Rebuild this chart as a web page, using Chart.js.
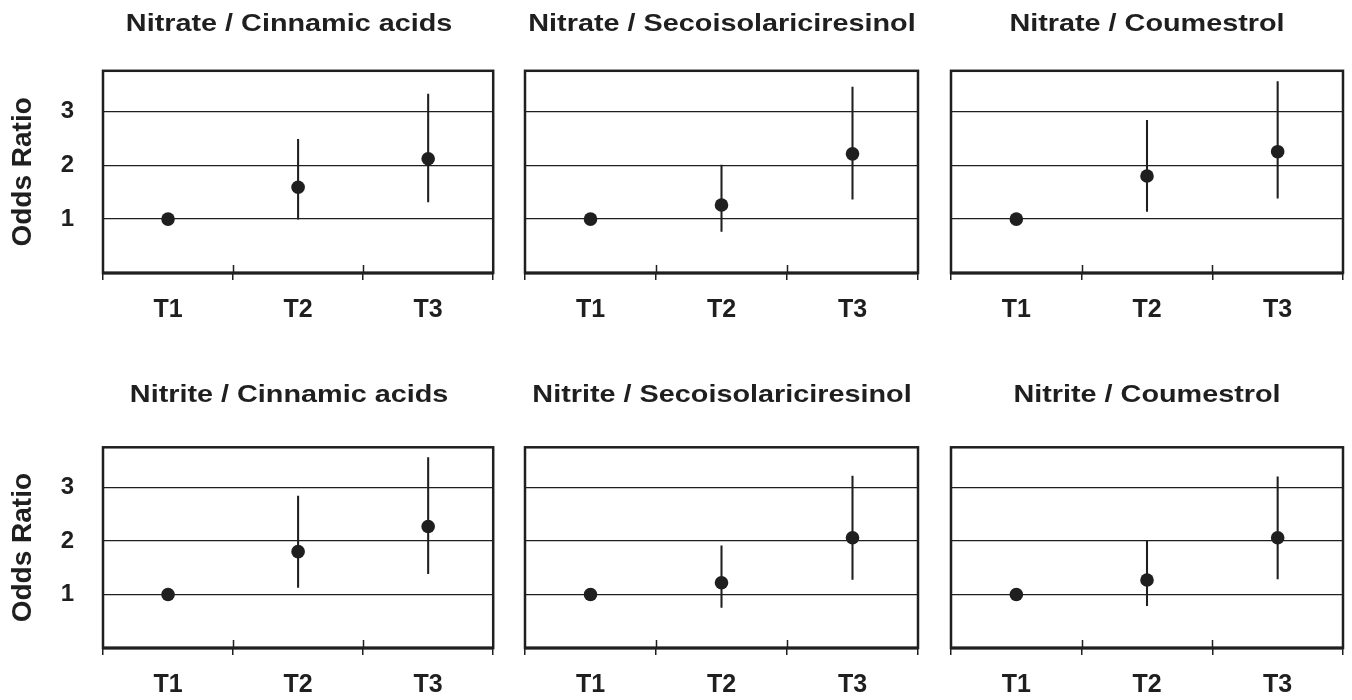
<!DOCTYPE html>
<html>

<head>
    <meta charset="utf-8" />
    <script src="https://cdn.jsdelivr.net/npm/chart.js"></script>
    <style>
        body { margin: 0; background: #fff; width: 1352px; height: 700px; position: relative; overflow: hidden; }
        canvas { position: absolute; }
    </style>
</head>

<body>

    <script type="text/javascript">

        // Datos
        const categories = ['T1', 'T2', 'T3'];
        const yTicks = [1, 2, 3];

        const nitrateCinnamicOR = [1.00, 1.59, 2.12];
        const nitrateCinnamicLow = [null, 1.00, 1.32];
        const nitrateCinnamicHigh = [null, 2.48, 3.32];

        const nitrateSecoOR = [1.00, 1.26, 2.21];
        const nitrateSecoLow = [null, 0.77, 1.37];
        const nitrateSecoHigh = [null, 2.00, 3.45];

        const nitrateCoumOR = [1.00, 1.80, 2.25];
        const nitrateCoumLow = [null, 1.14, 1.39];
        const nitrateCoumHigh = [null, 2.83, 3.55];

        const nitriteCinnamicOR = [1.00, 1.80, 2.27];
        const nitriteCinnamicLow = [null, 1.13, 1.39];
        const nitriteCinnamicHigh = [null, 2.84, 3.56];

        const nitriteSecoOR = [1.00, 1.22, 2.06];
        const nitriteSecoLow = [null, 0.76, 1.28];
        const nitriteSecoHigh = [null, 1.91, 3.21];

        const nitriteCoumOR = [1.00, 1.27, 2.06];
        const nitriteCoumLow = [null, 0.79, 1.29];
        const nitriteCoumHigh = [null, 2.00, 3.20];

        const panels = [
            { title: 'Nitrate / Cinnamic acids', or: nitrateCinnamicOR, low: nitrateCinnamicLow, high: nitrateCinnamicHigh },
            { title: 'Nitrate / Secoisolariciresinol', or: nitrateSecoOR, low: nitrateSecoLow, high: nitrateSecoHigh },
            { title: 'Nitrate / Coumestrol', or: nitrateCoumOR, low: nitrateCoumLow, high: nitrateCoumHigh },
            { title: 'Nitrite / Cinnamic acids', or: nitriteCinnamicOR, low: nitriteCinnamicLow, high: nitriteCinnamicHigh },
            { title: 'Nitrite / Secoisolariciresinol', or: nitriteSecoOR, low: nitriteSecoLow, high: nitriteSecoHigh },
            { title: 'Nitrite / Coumestrol', or: nitriteCoumOR, low: nitriteCoumLow, high: nitriteCoumHigh }
        ];

        // Posiciones de las filas y columnas
        const rows = [
            { top: 0, height: 325, titleTop: 10, titleBottom: 32 },
            { top: 350, height: 350, titleTop: 30.5, titleBottom: 38 }
        ];
        const cols = [
            { left: 0, width: 500, yWidth: 103, padRight: 6, titleShift: -9 },
            { left: 505, width: 420, yWidth: 20, padRight: 7, titleShift: 0.5 },
            { left: 930, width: 422, yWidth: 21, padRight: 9, titleShift: 0 }
        ];

        const ink = '#1f1f1f';
        const family = '"Liberation Sans", Arial, Helvetica, sans-serif';

        // marco del grafico y las marcas que cruzan el eje x
        const frame = {
            id: 'frame',
            beforeDatasetsDraw(chart) {
                const ctx = chart.ctx;
                const a = chart.chartArea;
                const x = chart.scales.x;
                ctx.save();
                ctx.strokeStyle = ink;
                ctx.lineWidth = 1.5;
                ctx.beginPath();
                for (let i = 1; i < categories.length; i++) {
                    const px = Math.round((x.getPixelForValue(i - 1) + x.getPixelForValue(i)) / 2) + 0.5;
                    ctx.moveTo(px, a.bottom - 8);
                    ctx.lineTo(px, a.bottom);
                }
                ctx.stroke();
                ctx.lineWidth = 2.5;
                ctx.strokeRect(a.left, a.top, a.right - a.left, a.bottom - a.top);
                ctx.lineWidth = 3;
                ctx.beginPath();
                ctx.moveTo(a.left, a.bottom);
                ctx.lineTo(a.right, a.bottom);
                ctx.stroke();
                ctx.restore();
            }
        };

        // el titulo original es mas ancho: se estira en horizontal
        const wideTitle = {
            id: 'wideTitle',
            beforeDraw(chart, args, opts) {
                const tb = chart.titleBlock;
                if (tb && !tb._wide) {
                    const orig = tb.draw.bind(tb);
                    tb.draw = function (area) {
                        const ctx = chart.ctx;
                        const cx = (tb.left + tb.right) / 2;
                        ctx.save();
                        ctx.translate(cx + opts.shift, 0);
                        ctx.scale(1.2, 1);
                        ctx.translate(-cx, 0);
                        orig(area);
                        ctx.restore();
                    };
                    tb._wide = true;
                }
            }
        };

        panels.forEach((p, idx) => {
            const row = rows[Math.floor(idx / 3)];
            const col = cols[idx % 3];
            const first = (idx % 3) === 0;

            const canvas = document.createElement('canvas');
            canvas.width = col.width;
            canvas.height = row.height;
            canvas.style.left = col.left + 'px';
            canvas.style.top = row.top + 'px';
            document.body.appendChild(canvas);

            new Chart(canvas, {
                type: 'bar',
                data: {
                    labels: categories,
                    datasets: [
                        {
                            type: 'line',
                            data: p.or,
                            showLine: false,
                            pointRadius: 6.8,
                            pointHoverRadius: 6.8,
                            pointBackgroundColor: ink,
                            pointBorderColor: ink,
                            pointBorderWidth: 0,
                            order: 0
                        },
                        {
                            type: 'bar',
                            data: p.low.map((lo, i) => lo === null ? null : [lo, p.high[i]]),
                            backgroundColor: ink,
                            borderWidth: 0,
                            barThickness: 1.4,
                            order: 1
                        }
                    ]
                },
                options: {
                    responsive: false,
                    animation: false,
                    layout: { padding: { left: 0, right: col.padRight, top: 0, bottom: 0 } },
                    plugins: {
                        legend: { display: false },
                        tooltip: { enabled: false },
                        wideTitle: { shift: col.titleShift },
                        title: {
                            display: true,
                            text: p.title,
                            fullSize: false,
                            color: ink,
                            font: { family: family, size: 24, weight: 'bold', lineHeight: 1.2 },
                            padding: { top: row.titleTop, bottom: row.titleBottom }
                        }
                    },
                    scales: {
                        x: {
                            offset: true,
                            grid: { offset: true, drawOnChartArea: false, drawTicks: true, tickLength: 7, color: ink, lineWidth: 1.5 },
                            border: { display: false },
                            ticks: { color: ink, font: { family: family, size: 25, weight: 'bold' }, padding: 15.5, maxRotation: 0 },
                            afterFit: (s) => { s.height = 52; }
                        },
                        y: {
                            min: 0,
                            max: 3.75,
                            afterBuildTicks: (axis) => { axis.ticks = yTicks.map(v => ({ value: v })); },
                            grid: { drawTicks: false, color: ink, lineWidth: 1.3 },
                            border: { display: false },
                            ticks: { display: first, color: ink, font: { family: family, size: 24, weight: 'bold' }, padding: 29 },
                            title: {
                                display: first,
                                text: 'Odds Ratio',
                                color: ink,
                                font: { family: family, size: 28, weight: 'bold' },
                                padding: { top: 6, bottom: 0 }
                            },
                            afterFit: (s) => { s.width = col.yWidth; }
                        }
                    }
                },
                plugins: [frame, wideTitle]
            });
        });

    </script>

</body>

</html>
